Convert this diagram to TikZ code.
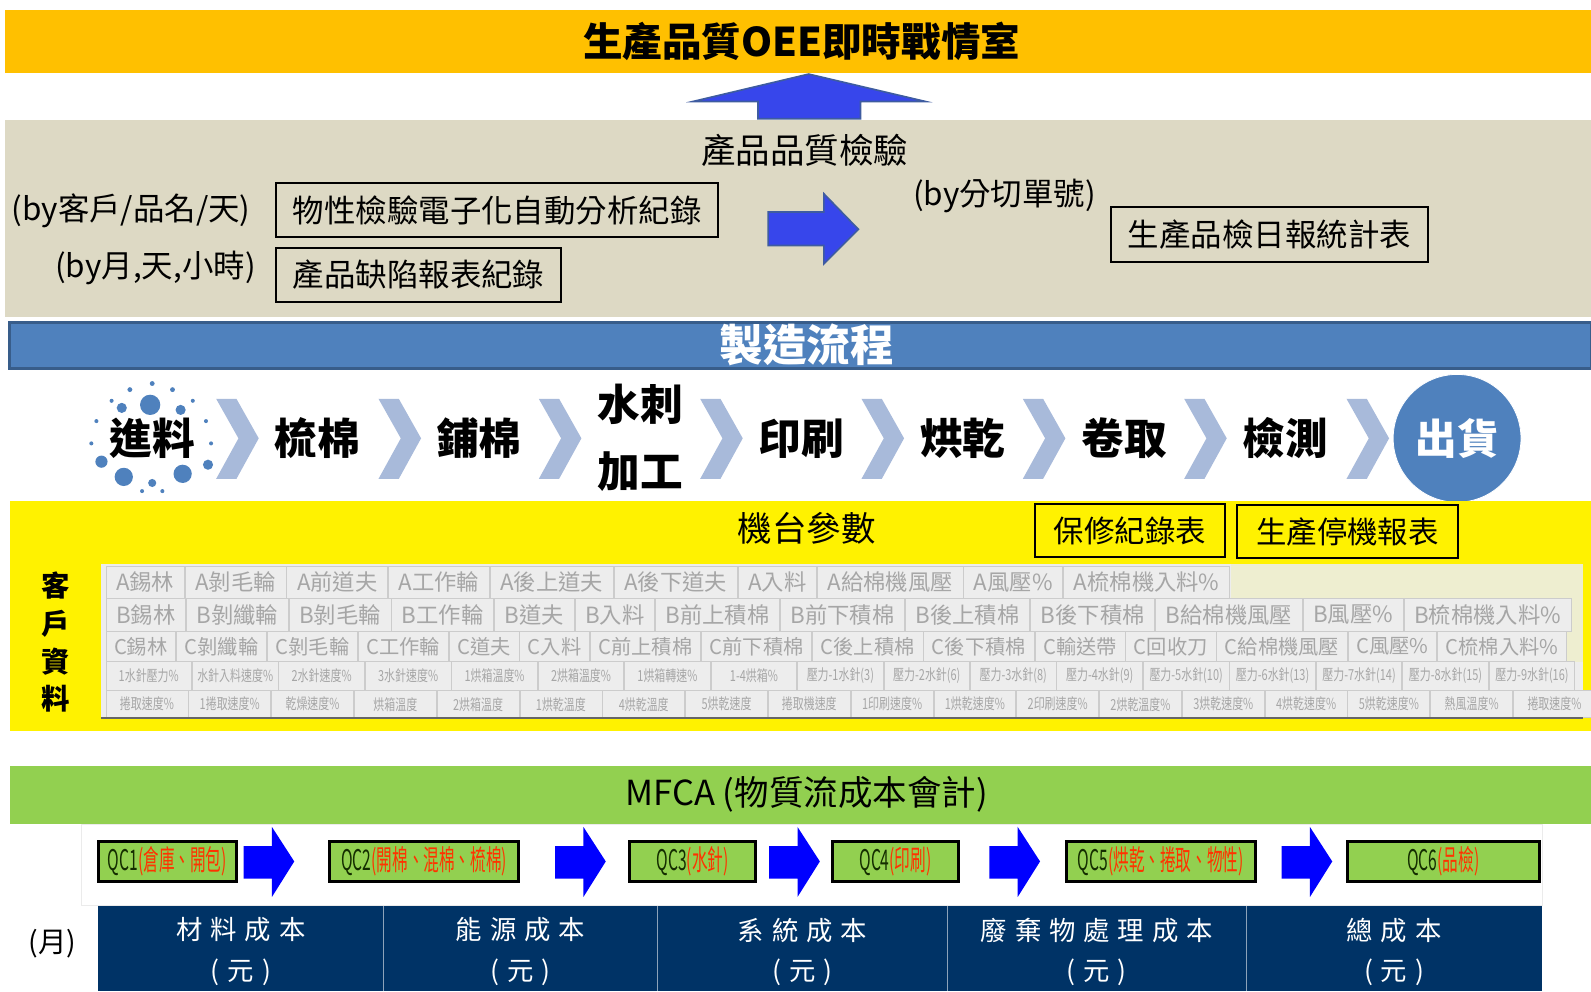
\documentclass[tikz,border=0pt]{standalone}
\usepackage{fontspec}
\setmainfont{Noto Sans CJK TC}
\usetikzlibrary{positioning}
\definecolor{oeeorange}{RGB}{255,192,0}
\definecolor{panelbeige}{RGB}{221,217,196}
\definecolor{flowblue}{RGB}{79,129,189}
\definecolor{flowedge}{RGB}{56,93,138}
\definecolor{chevblue}{RGB}{168,186,218}
\definecolor{arrowblue}{RGB}{55,70,235}
\definecolor{arrowedge}{RGB}{62,92,160}
\definecolor{mfcagreen}{RGB}{146,208,80}
\definecolor{costnavy}{RGB}{0,51,102}
\definecolor{qcred}{RGB}{255,51,0}
\definecolor{qcdark}{RGB}{20,45,0}
\definecolor{cellgray}{RGB}{237,237,237}
\definecolor{cellyellow}{RGB}{238,238,208}
\newcommand{\sz}[1]{\fontsize{#1}{#1}\selectfont}
\newcommand{\qclabel}[2]{\scalebox{0.55}[1]{\textcolor{qcdark}{#1}\textcolor{qcred}{#2}}}
\newcommand{\slim}[1]{\scalebox{0.72}[1]{#1}}

\begin{document}
\begin{tikzpicture}[x=0.5pt,y=-0.5pt,
  recbox/.style={draw=black,line width=1pt,inner sep=0pt,minimum height=27pt,font=\sz{15.5}},
  ybox/.style={draw=black,line width=1pt,inner sep=0pt,minimum height=26pt,font=\sz{15}},
  stage/.style={font=\sz{21}\bfseries},
  cell/.style={draw=black!20,fill=cellgray,text=black!35,inner ysep=0pt,inner xsep=5pt,font=\sz{11}},
  qcbox/.style={draw=black,line width=1.5pt,fill=mfcagreen,inner sep=0pt,minimum height=20pt,font=\sz{14}},
  costcell/.style={text=white,align=center,font={\sz{13}\addfontfeatures{LetterSpace=30}}},
  bigarrow/.style={fill=arrowblue,draw=arrowedge,line width=0.8pt}]
\useasboundingbox (0,0) rectangle (1568,977);

\fill[oeeorange] (5,10) rectangle (1568,72);
\node[font={\sz{19.5}\bfseries}] (oee) at (790,41) {生產品質OEE即時戰情室};
\filldraw[bigarrow] (747,117) -- (747,100) -- (683,100) -- (797,73) -- (912,100) -- (848,100) -- (848,117) -- cycle;

\fill[panelbeige] (5,118) rectangle (1568,312);
\node[font=\sz{17}] (qcheck) at (793,148) {產品品質檢驗};
\node[font=\sz{15.5},anchor=east] (bycust) at (254,208) {(by客戶/品名/天)};
\node[recbox,minimum width=218pt] (phys) at (490,207) {物性檢驗電子化自動分析紀錄};
\node[font=\sz{15.5},anchor=east] (bymonth) at (259,264) {(by月,天,小時)};
\node[recbox,minimum width=140.5pt] (defect) at (412.5,271) {產品缺陷報表紀錄};
\filldraw[bigarrow] (757,209) -- (812,209) -- (812,191) -- (846,226) -- (812,260) -- (812,242) -- (757,242) -- cycle;
\node[font=\sz{15.5}] (bycut) at (990,193) {(by分切單號)};
\node[recbox,minimum width=156pt] (daily) at (1251,231) {生產品檢日報統計表};

\filldraw[fill=flowblue,draw=flowedge,line width=1.5pt] (9,318) rectangle (1568,363);
\node[font={\sz{21.5}\bfseries},text=white] (flow) at (795,340) {製造流程};

\foreach \x in {213,373,531,690,849,1008,1167,1327}
  \fill[chevblue] (\x,393) -- (\x+20,393) -- (\x+42,432) -- (\x+20,472) -- (\x,472) -- (\x+22,432) -- cycle;
\foreach \x/\y/\r in {148/399/5,120/402/2.5,178/404/2.5,100/455/3,122/470/4.5,150/476/2,180/467/4.5,205/458/2.5,
  150/378/1.2,128/384/1.2,170/384/1.2,110/395/1,190/395/1,95/415/1,203/415/1,90/437/1,208/437/1,140/484/1,160/484/1}
  \fill[flowblue] (\x,\y) circle[radius=\r pt];
\node[stage] (s1) at (150,432) {進料};
\node[stage] (s2) at (313,432) {梳棉};
\node[stage] (s3) at (472,432) {鋪棉};
\node[stage] (s4a) at (631,398) {水刺};
\node[stage] (s4b) at (631,465) {加工};
\node[stage] (s5) at (790,432) {印刷};
\node[stage] (s6) at (949,432) {烘乾};
\node[stage] (s7) at (1108,432) {卷取};
\node[stage] (s8) at (1267,432) {檢測};
\node[circle,fill=flowblue,draw=white,minimum size=63pt,text=white,font={\sz{20.5}\bfseries}] (ship) at (1436,432) {出貨};

\fill[yellow] (10,494) rectangle (1568,720);
\node[font=\sz{17}] (param) at (795,521) {機台參數};
\node[ybox,minimum width=93.5pt] (repair) at (1113.5,523) {保修紀錄表};
\node[ybox,minimum width=109pt] (stop) at (1328,524) {生產停機報表};
\node[font={\fontsize{14}{18.5}\selectfont\bfseries},align=center] (cust) at (55,633) {客\\戶\\資\\料};

\fill[cellyellow] (100,556) rectangle (1560,652);
\fill[cellgray] (100,556) rectangle (1213,652);
\fill[cellgray] (100,652) rectangle (1560,708);
\coordinate (ra0) at (104,574);
\foreach \t [count=\i, remember=\i as \j (initially 0)] in
  {A錫林,A剝毛輪,A前道夫,A工作輪,A後上道夫,A後下道夫,A入料,A給棉機風壓,A風壓\%,A梳棉機入料\%}
  \node[cell,minimum height=16pt,right=0pt of ra\j] (ra\i) {\t};
\coordinate (rb0) at (104,606);
\foreach \t [count=\i, remember=\i as \j (initially 0)] in
  {B錫林,B剝纖輪,B剝毛輪,B工作輪,B道夫,B入料,B前上積棉,B前下積棉,B後上積棉,B後下積棉,B給棉機風壓,B風壓\%,B梳棉機入料\%}
  \node[cell,minimum height=16pt,right=0pt of rb\j] (rb\i) {\t};
\coordinate (rc0) at (104,637);
\foreach \t [count=\i, remember=\i as \j (initially 0)] in
  {C錫林,C剝纖輪,C剝毛輪,C工作輪,C道夫,C入料,C前上積棉,C前下積棉,C後上積棉,C後下積棉,C輸送帶,C回收刀,C給棉機風壓,C風壓\%,C梳棉入料\%}
  \node[cell,font=\sz{10},inner xsep=4pt,minimum height=15pt,right=0pt of rc\j] (rc\i) {\t};
\coordinate (rd0) at (104,666);
\foreach \t [count=\i, remember=\i as \j (initially 0)] in
  {1水針壓力\%,水針入料速度\%,2水針速度\%,3水針速度\%,1烘箱溫度\%,2烘箱溫度\%,1烘箱轉速\%,1-4烘箱\%,壓力-1水針(3),壓力-2水針(6),壓力-3水針(8),壓力-4水針(9),壓力-5水針(10),壓力-6水針(13),壓力-7水針(14),壓力-8水針(15),壓力-9水針(16)}
  \node[cell,font=\sz{7.5},inner xsep=1pt,minimum width=42.2pt,minimum height=14pt,right=0pt of rd\j] (rd\i) {\slim{\t}};
\coordinate (re0) at (104,694);
\foreach \t [count=\i, remember=\i as \j (initially 0)] in
  {捲取速度\%,1捲取速度\%,乾燥速度\%,烘箱溫度,2烘箱溫度,1烘乾溫度,4烘乾溫度,5烘乾速度,捲取機速度,1印刷速度\%,1烘乾速度\%,2印刷速度\%,2烘乾溫度\%,3烘乾速度\%,4烘乾速度\%,5烘乾速度\%,熱風溫度\%,捲取速度\%}
  \node[cell,font=\sz{7.5},inner xsep=1pt,minimum width=40.4pt,minimum height=13.5pt,right=0pt of re\j] (re\i) {\slim{\t}};
\draw[black!60,line width=1pt] (100,708) -- (1560,708);

\fill[mfcagreen] (10,755) rectangle (1568,812);
\node[font=\sz{17}] (mfca) at (795,783) {MFCA (物質流成本會計)};
\draw[black!8] (80,812) rectangle (1520,892);
\node[qcbox,minimum width=68pt] (qc1) at (165,849) {\qclabel{QC1}{(倉庫、開包)}};
\node[qcbox,minimum width=93pt] (qc2) at (418,849) {\qclabel{QC2}{(開棉、混棉、梳棉)}};
\node[qcbox,minimum width=62.5pt] (qc3) at (682.5,849) {\qclabel{QC3}{(水針)}};
\node[qcbox,minimum width=62.5pt] (qc4) at (882.5,849) {\qclabel{QC4}{(印刷)}};
\node[qcbox,minimum width=93pt] (qc5) at (1144,849) {\qclabel{QC5}{(烘乾、捲取、物性)}};
\node[qcbox,minimum width=94.5pt] (qc6) at (1422.5,849) {\qclabel{QC6}{(品檢)}};
\foreach \x in {240,547,758,975,1263}
  \fill[blue] (\x,834) -- (\x+28,834) -- (\x+28,815) -- (\x+50,849) -- (\x+28,884) -- (\x+28,866) -- (\x,866) -- cycle;

\fill[costnavy] (97,893) rectangle (1520,977);
\foreach \x in {378,648,934,1228}
  \draw[white!55!costnavy] (\x,893) -- (\x,977);
\node[font=\sz{14}] (month) at (52,930) {(月)};
\node[costcell] (cost1) at (237.5,938) {材料成本\\[7pt](元)};
\node[costcell] (cost2) at (513,938) {能源成本\\[7pt](元)};
\node[costcell] (cost3) at (791,938) {系統成本\\[7pt](元)};
\node[costcell] (cost4) at (1081,938) {廢棄物處理成本\\[7pt](元)};
\node[costcell] (cost5) at (1374,938) {總成本\\[7pt](元)};
\end{tikzpicture}
\end{document}
